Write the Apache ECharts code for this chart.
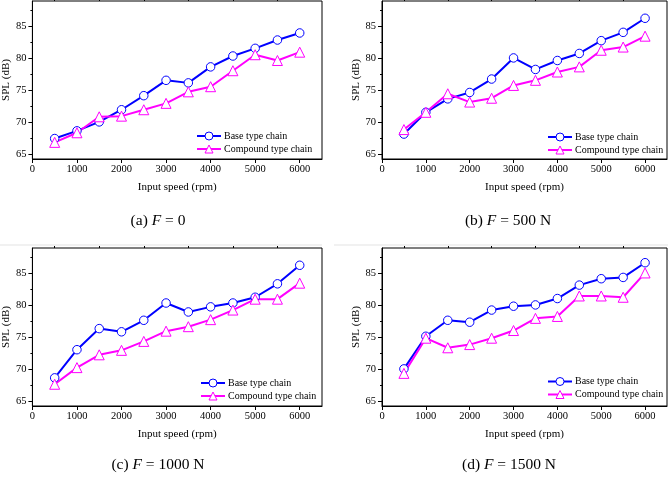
<!DOCTYPE html>
<html>
<head>
<meta charset="utf-8">
<script src="https://cdn.jsdelivr.net/npm/echarts@6/dist/echarts.min.js"></script>
<style>
  html, body { margin: 0; padding: 0; background: #fff; }
  #chart { width: 668px; height: 478px; }
</style>
</head>
<body>
<div id="chart"></div>
<script>
// input speeds (rpm)
const speeds = [500, 1000, 1500, 2000, 2500, 3000, 3500, 4000, 4500, 5000, 5500, 6000];

// SPL (dB)
const baseA = [67.4, 68.6, 70.0, 71.9, 74.1, 76.5, 76.1, 78.6, 80.3, 81.5, 82.8, 83.9];
const compA = [66.8, 68.3, 70.8, 70.9, 71.9, 72.9, 74.7, 75.5, 78.0, 80.5, 79.6, 80.9];
const baseB = [68.1, 71.5, 73.6, 74.6, 76.7, 80.0, 78.2, 79.6, 80.7, 82.7, 84.0, 86.2];
const compB = [68.8, 71.5, 74.4, 73.1, 73.7, 75.7, 76.5, 77.8, 78.6, 81.2, 81.7, 83.4];
const baseC = [68.6, 73.0, 76.3, 75.8, 77.6, 80.3, 78.9, 79.7, 80.3, 81.2, 83.3, 86.2];
const compC = [67.6, 70.2, 72.2, 72.9, 74.3, 75.9, 76.6, 77.7, 79.2, 80.9, 80.9, 83.4];
const baseD = [70.0, 75.1, 77.6, 77.3, 79.2, 79.8, 80.0, 81.0, 83.1, 84.1, 84.3, 86.6];
const compD = [69.3, 74.8, 73.3, 73.8, 74.8, 76.0, 77.9, 78.2, 81.4, 81.4, 81.2, 85.0];

// tick values
const xTicks = [0, 1000, 2000, 3000, 4000, 5000, 6000];
const xMinor = [500, 1500, 2500, 3500, 4500, 5500];
const yTicks = [65, 70, 75, 80, 85];
const yMinor = [67.5, 72.5, 77.5, 82.5, 87.5];

const captions = ['(a) {i|F} = 0', '(b) {i|F} = 500 N', '(c) {i|F} = 1000 N', '(d) {i|F} = 1500 N'];
const seriesNames = ['Base type chain', 'Compound type chain'];

const FONT = '"Liberation Serif", "Times New Roman", serif';
const BLUE = '#0000ff';
const MAGENTA = '#ff00ff';

// panel layout: [left, top, width, height]
const panels = [
  { box: [29, 1, 293, 158], legend: [196, 130.5], cap: [158, 221], base: baseA, comp: compA },
  { box: [382, 1, 285, 158], legend: [547, 131.5], cap: [508, 221], base: baseB, comp: compB },
  { box: [29, 248, 293, 158], legend: [200, 377.5], cap: [158, 465], base: baseC, comp: compC },
  { box: [382, 248, 285, 158], legend: [547, 376], cap: [509, 465], base: baseD, comp: compD }
];

const pairs = (vals) => speeds.map((s, i) => [s, vals[i]]);

const grid = [], xAxis = [], yAxis = [], series = [], legend = [], graphic = [];

panels.forEach((p, k) => {
  const [l, t, w, h] = p.box;
  grid.push({ left: l, top: t, width: w, height: h, show: true, borderColor: '#000', borderWidth: 1, backgroundColor: 'transparent' });

  // main axes
  xAxis.push({
    type: 'value', gridIndex: k, min: 0, max: 6500,
    name: 'Input speed (rpm)', nameLocation: 'middle', nameGap: 23,
    nameTextStyle: { fontFamily: FONT, fontSize: 11, color: '#000' },
    axisLine: { show: true, lineStyle: { color: '#000', width: 1 } },
    axisTick: { show: true, length: 4, customValues: xTicks, lineStyle: { color: '#000' } },
    axisLabel: { customValues: xTicks, margin: 5, fontFamily: FONT, fontSize: 10.5, color: '#000', formatter: (v) => String(v) },
    splitLine: { show: false }
  });
  yAxis.push({
    type: 'value', gridIndex: k, min: 64.2, max: 88.9,
    name: 'SPL (dB)', nameLocation: 'middle', nameGap: 19,
    nameTextStyle: { fontFamily: FONT, fontSize: 11, color: '#000' },
    axisLine: { show: true, lineStyle: { color: '#000', width: 1 } },
    axisTick: { show: true, length: 4, customValues: yTicks, lineStyle: { color: '#000' } },
    axisLabel: { customValues: yTicks, margin: 6, fontFamily: FONT, fontSize: 10.5, color: '#000', formatter: (v) => String(v) },
    splitLine: { show: false }
  });
  // minor tick axes
  xAxis.push({
    type: 'value', gridIndex: k, min: 0, max: 6500,
    axisLine: { show: false },
    axisTick: { show: true, length: 2, customValues: xMinor, lineStyle: { color: '#000' } },
    axisLabel: { show: false },
    splitLine: { show: false }
  });
  yAxis.push({
    type: 'value', gridIndex: k, min: 64.2, max: 88.9, position: 'left',
    axisLine: { show: false },
    axisTick: { show: true, length: 2, customValues: yMinor, lineStyle: { color: '#000' } },
    axisLabel: { show: false },
    splitLine: { show: false }
  });

  series.push({
    name: seriesNames[0], type: 'line', xAxisIndex: 2 * k, yAxisIndex: 2 * k,
    data: pairs(p.base), symbol: 'circle', symbolSize: 8.5,
    lineStyle: { color: BLUE, width: 2 },
    itemStyle: { color: '#fff', borderColor: BLUE, borderWidth: 1 },
    emphasis: { disabled: true }, animation: false
  });
  series.push({
    name: seriesNames[1], type: 'line', xAxisIndex: 2 * k, yAxisIndex: 2 * k,
    data: pairs(p.comp), symbol: 'triangle', symbolSize: 10,
    lineStyle: { color: MAGENTA, width: 2 },
    itemStyle: { color: '#fff', borderColor: MAGENTA, borderWidth: 1 },
    emphasis: { disabled: true }, animation: false
  });

  legend.push({
    data: seriesNames, orient: 'vertical', left: p.legend[0], top: p.legend[1],
    itemWidth: 24, itemHeight: 10, itemGap: 2, padding: 0, selectedMode: false,
    itemStyle: { borderWidth: 1 },
    textStyle: { fontFamily: FONT, fontSize: 10, color: '#000', lineHeight: 11, padding: [0, 0, 0, -2] }
  });

  graphic.push({
    type: 'text', x: p.cap[0], y: p.cap[1],
    style: {
      text: captions[k], align: 'center', verticalAlign: 'middle',
      font: '15.5px ' + FONT, fill: '#000',
      rich: { i: { fontStyle: 'italic', fontFamily: FONT, fontSize: 15.5 } }
    }
  });
});

// faint separator lines from the source figure
graphic.push({ type: 'line', shape: { x1: 0, y1: 245, x2: 322, y2: 245 }, style: { stroke: '#e3e3e3', lineWidth: 1 } });
graphic.push({ type: 'line', shape: { x1: 334, y1: 245, x2: 668, y2: 245 }, style: { stroke: '#e3e3e3', lineWidth: 1 } });

const chart = echarts.init(document.getElementById('chart'));
chart.setOption({
  animation: false,
  grid, xAxis, yAxis, series, legend, graphic
});
</script>
</body>
</html>
